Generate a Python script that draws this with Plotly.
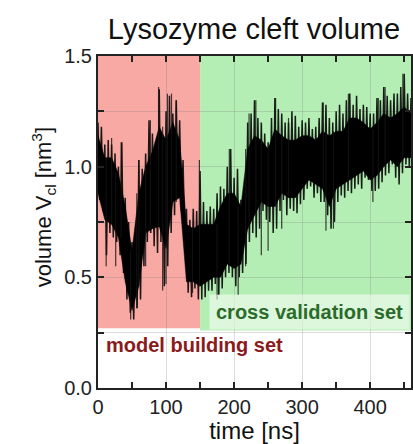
import plotly.graph_objects as go

# Envelope of the cleft-volume trace, read every 5 ns (nm^3)
time_ns = list(range(0, 465, 5))
v_high = [1.20, 1.18, 1.10, 1.12, 1.10, 1.06, 1.00, 1.11, 0.86, 0.75,
          0.66, 0.70, 1.03, 0.99, 1.06, 1.21, 1.15, 1.11, 1.35, 1.06,
          1.25, 1.32, 1.24, 1.30, 1.21, 1.03, 0.81, 0.76, 0.81, 0.80,
          0.98, 0.84, 0.80, 0.82, 0.81, 0.88, 0.91, 0.90, 1.00, 1.08,
          0.95, 0.99, 0.85, 0.88, 1.20, 1.24, 1.30, 1.22, 1.20, 1.15,
          1.11, 1.22, 1.31, 1.26, 1.24, 1.20, 1.20, 1.25, 1.23, 1.18,
          1.21, 1.20, 1.22, 1.17, 1.18, 1.22, 1.29, 1.28, 1.22, 1.20,
          1.25, 1.28, 1.24, 1.30, 1.33, 1.28, 1.32, 1.26, 1.28, 1.27,
          1.24, 1.24, 1.31, 1.30, 1.36, 1.32, 1.30, 1.33, 1.33, 1.36,
          1.42, 1.33, 1.31]
v_low = [0.85, 0.80, 0.60, 0.70, 0.68, 0.66, 0.60, 0.52, 0.40, 0.34,
         0.31, 0.36, 0.40, 0.55, 0.66, 0.70, 0.64, 0.61, 0.66, 0.46,
         0.55, 0.70, 0.78, 0.88, 0.80, 0.66, 0.43, 0.41, 0.45, 0.40,
         0.40, 0.41, 0.44, 0.44, 0.47, 0.42, 0.45, 0.50, 0.52, 0.50,
         0.46, 0.50, 0.52, 0.56, 0.66, 0.70, 0.68, 0.72, 0.80, 0.76,
         0.75, 0.70, 0.72, 0.80, 0.85, 0.78, 0.81, 0.80, 0.79, 0.83,
         0.85, 0.90, 0.91, 0.86, 0.88, 0.84, 0.84, 0.78, 0.72, 0.75,
         0.84, 0.87, 0.86, 0.89, 0.88, 0.90, 0.92, 0.90, 0.95, 0.94,
         0.89, 0.89, 0.90, 0.93, 0.96, 0.97, 1.01, 0.95, 0.92, 0.97,
         1.01, 1.00, 1.01]

# Dense (solid-looking) core of the trace, read every 10 ns
core_t = list(range(0, 470, 10))
core_high = [1.14, 1.04, 1.04, 0.97, 0.82, 0.62, 0.88, 1.00, 1.07, 1.18,
             1.12, 1.20, 1.12, 0.74, 0.72, 0.74, 0.74, 0.74, 0.82, 0.88,
             0.88, 0.82, 1.08, 1.14, 1.12, 1.08, 1.17, 1.14, 1.12, 1.12,
             1.14, 1.14, 1.12, 1.16, 1.14, 1.16, 1.16, 1.22, 1.22, 1.20,
             1.17, 1.20, 1.24, 1.22, 1.24, 1.27, 1.24]
core_low = [0.88, 0.76, 0.74, 0.68, 0.48, 0.35, 0.46, 0.70, 0.72, 0.73,
            0.63, 0.84, 0.86, 0.48, 0.48, 0.46, 0.48, 0.50, 0.50, 0.56,
            0.54, 0.56, 0.72, 0.78, 0.84, 0.82, 0.82, 0.88, 0.86, 0.86,
            0.90, 0.94, 0.92, 0.90, 0.82, 0.90, 0.92, 0.94, 0.96, 0.98,
            0.94, 0.96, 1.00, 1.03, 1.00, 1.04, 1.04]

# Thin isolated spikes (ns, nm^3)
spike_up_t = [20, 34, 60, 77, 89, 102, 108, 115, 149, 193, 222, 232, 261,
              280, 331, 368, 412, 422, 448]
spike_up_v = [1.13, 1.11, 1.03, 1.21, 1.36, 1.33, 1.33, 1.30, 1.03, 1.08,
              1.24, 1.30, 1.31, 1.22, 1.29, 1.33, 1.31, 1.36, 1.42]
spike_dn_t = [12, 26, 48, 57, 70, 95, 100, 139, 175, 206, 217, 240, 250,
              270, 335, 346, 404]
spike_dn_v = [0.55, 0.55, 0.31, 0.36, 0.55, 0.44, 0.47, 0.43, 0.40, 0.42,
              0.55, 0.60, 0.62, 0.72, 0.71, 0.72, 0.84]

# Data-set split (ns) and region floor (nm^3)
split_t = 150
end_t = 460
region_floor = 0.27

fig = go.Figure()

# Solid core band
band_x = core_t + core_t[::-1]
band_y = core_high + core_low[::-1]
fig.add_trace(go.Scatter(x=band_x, y=band_y, mode="lines", fill="toself",
                         fillcolor="black", line=dict(color="black", width=0.5),
                         hoverinfo="skip", showlegend=False))

# Fluctuations filling the envelope
xs, ys = [], []
for t, hi, lo in zip(time_ns, v_high, v_low):
    xs += [t, t + 2.5]
    ys += [hi, lo]
fig.add_trace(go.Scatter(x=xs, y=ys, mode="lines",
                         line=dict(color="rgba(0,0,0,0.88)", width=1.5),
                         hoverinfo="skip", showlegend=False))

# Isolated spikes
def nearest(t, arr_t, arr_v):
    i = min(range(len(arr_t)), key=lambda k: abs(arr_t[k] - t))
    return arr_v[i]

sx, sy = [], []
for t, v in zip(spike_up_t, spike_up_v):
    sx += [t, t, None]
    sy += [nearest(t, core_t, core_low), v, None]
for t, v in zip(spike_dn_t, spike_dn_v):
    sx += [t, t, None]
    sy += [nearest(t, core_t, core_high), v, None]
fig.add_trace(go.Scatter(x=sx, y=sy, mode="lines",
                         line=dict(color="rgba(20,20,20,0.8)", width=1.2),
                         hoverinfo="skip", showlegend=False))

fig.add_shape(type="rect", xref="x", yref="y", x0=0, x1=split_t,
              y0=region_floor, y1=1.5, fillcolor="#f8a9a3",
              line=dict(width=0), layer="below")
fig.add_shape(type="rect", xref="x", yref="y", x0=split_t, x1=end_t,
              y0=region_floor - 0.01, y1=1.5, fillcolor="#b4eeb4",
              line=dict(width=0), layer="below")

fig.add_annotation(x=163, y=0.345, xref="x", yref="y", xanchor="left",
                   yanchor="middle", showarrow=False,
                   text="<b>cross validation set</b>",
                   font=dict(family="Liberation Sans, Arial", size=20,
                             color="#2b6b2b"),
                   bgcolor="rgba(255,255,255,0.55)", borderpad=6)
fig.add_annotation(x=9, y=0.195, xref="x", yref="y", xanchor="left",
                   yanchor="middle", showarrow=False,
                   text="<b>model building set</b>",
                   font=dict(family="Liberation Sans, Arial", size=20,
                             color="#8b1a1a"))

# y-axis title placed as rotated text
fig.add_annotation(x=-0.175, y=0.545, xref="paper", yref="paper",
                   xanchor="center", yanchor="middle", showarrow=False,
                   textangle=-90,
                   text="volume V<sub>cl</sub> [nm<sup>3</sup>]",
                   font=dict(size=22, color="#111"))

font_main = "Liberation Sans, Arial, Helvetica"
fig.update_layout(
    width=413, height=444,
    margin=dict(l=98, r=0, t=56, b=56),
    paper_bgcolor="white", plot_bgcolor="white",
    font=dict(family=font_main, color="#222"),
    title=dict(text="Lysozyme cleft volume", x=0.615, xref="container",
               xanchor="center", y=1 - 29 / 444, yref="container",
               yanchor="middle", font=dict(size=29, color="#111")),
    xaxis=dict(range=[0, end_t], dtick=100, tick0=0,
               ticks="inside", ticklen=6, tickwidth=1.5, tickcolor="#222",
               showline=True, linecolor="#222", linewidth=2, mirror="ticks",
               showgrid=True, gridcolor="rgba(120,120,120,0.25)", gridwidth=1,
               zeroline=False, tickfont=dict(size=20, color="#222"),
               minor=dict(dtick=50, ticks="inside", ticklen=6,
                          tickcolor="#222", showgrid=False),
               title=dict(text="time [ns]", font=dict(size=24, color="#111"),
                          standoff=4)),
    yaxis=dict(range=[0, 1.5], dtick=0.5, tick0=0, tickformat=".1f",
               ticks="inside", ticklen=6, tickwidth=1.5, tickcolor="#222",
               showline=True, linecolor="#222", linewidth=2, mirror="ticks",
               showgrid=True, gridcolor="rgba(120,120,120,0.25)", gridwidth=1,
               zeroline=False, tickfont=dict(size=20, color="#222"),
               minor=dict(dtick=0.25, ticks="inside", ticklen=6,
                          tickcolor="#222", showgrid=True,
                          gridcolor="rgba(120,120,120,0.25)")),
)

fig.write_html("out.html")
